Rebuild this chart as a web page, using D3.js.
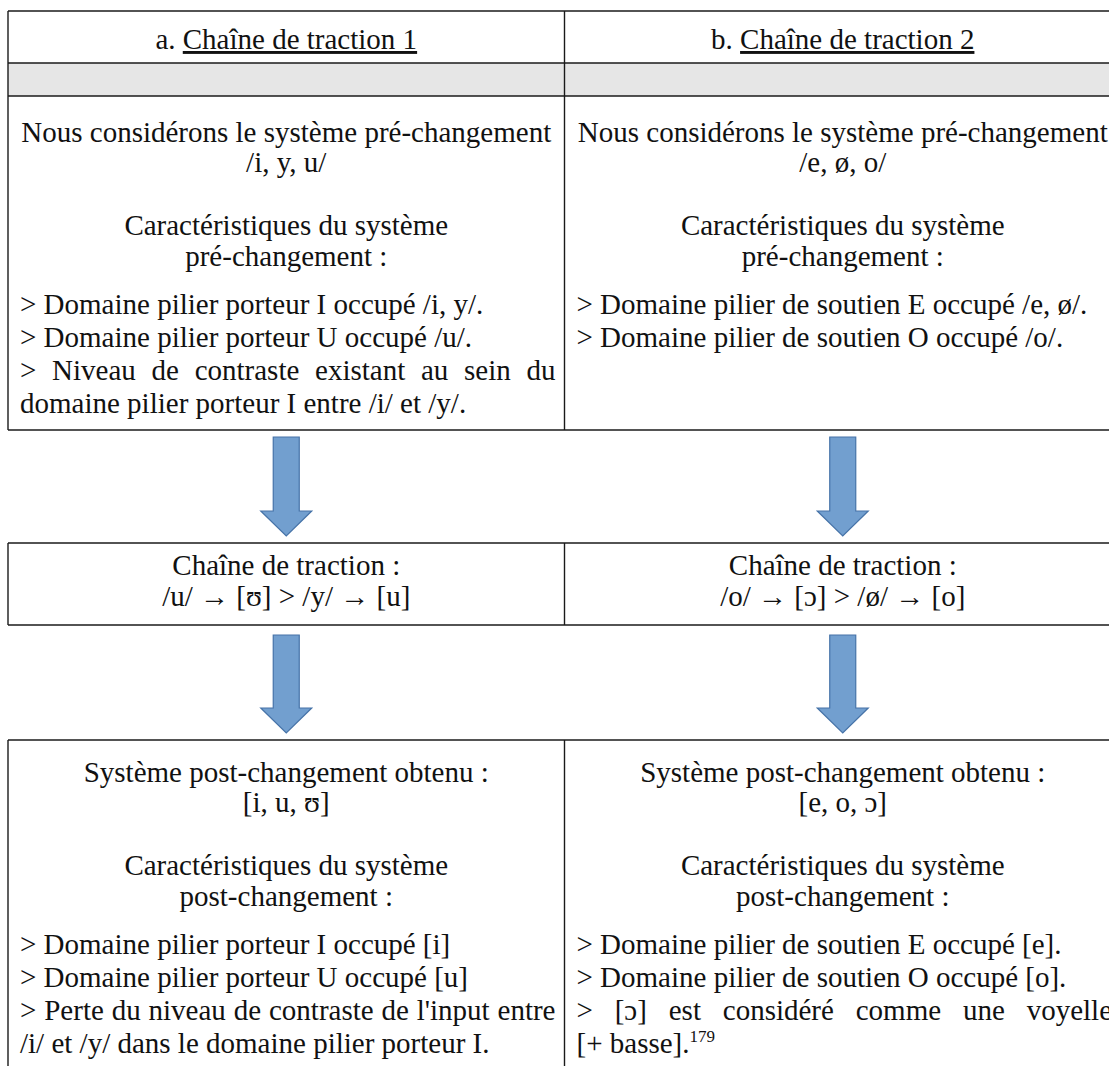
<!DOCTYPE html>
<html><head><meta charset="utf-8">
<script src="https://cdn.jsdelivr.net/npm/d3@7"></script>
<style>
html,body{margin:0;padding:0;background:#fff;}
svg{display:block;}
text{font-family:"Liberation Serif","Times New Roman",serif;fill:#111;}
</style></head>
<body>
<svg id="c" width="1109" height="1066"></svg>
<script>
// ---------- DATA ----------
const columns = ["a", "b"];
const headerPrefix = ["a. ", "b. "];
const headerTitles = ["Chaîne de traction 1", "Chaîne de traction 2"];
const preIntro = [
  ["Nous considérons le système pré-changement", "/i, y, u/"],
  ["Nous considérons le système pré-changement", "/e, ø, o/"]
];
const preCharTitle = ["Caractéristiques du système", "pré-changement :"];
const preList = [
  [["> Domaine pilier porteur I occupé /i, y/."],
   ["> Domaine pilier porteur U occupé /u/."],
   ["> Niveau de contraste existant au sein du", "domaine pilier porteur I entre /i/ et /y/."]],
  [["> Domaine pilier de soutien E occupé /e, ø/."],
   ["> Domaine pilier de soutien O occupé /o/."]]
];
const chainLines = [
  ["Chaîne de traction :", "/u/ → [ʊ] > /y/ → [u]"],
  ["Chaîne de traction :", "/o/ → [ɔ] > /ø/ → [o]"]
];
const postIntro = [
  ["Système post-changement obtenu :", "[i, u, ʊ]"],
  ["Système post-changement obtenu :", "[e, o, ɔ]"]
];
const postCharTitle = ["Caractéristiques du système", "post-changement :"];
const postList = [
  [["> Domaine pilier porteur I occupé [i]"],
   ["> Domaine pilier porteur U occupé [u]"],
   ["> Perte du niveau de contraste de l'input entre", "/i/ et /y/ dans le domaine pilier porteur I."]],
  [["> Domaine pilier de soutien E occupé [e]."],
   ["> Domaine pilier de soutien O occupé [o]."],
   ["> [ɔ] est considéré comme une voyelle", "[+ basse]."]]
];
const footnotes = [null, "179"];

// ---------- LAYOUT ----------
const svg = d3.select("#c");
const FS = 29;
const x = d3.scaleBand().domain(columns).range([8, 1121]);
const PADL = 12, PADR = 9;
const lineColor = "#1a1a1a";

// table rows (y bounds)
const T1 = {top: 11, headBottom: 63, grayBottom: 96, bottom: 430};
const T2 = {top: 543, bottom: 625};
const T3 = {top: 740, bottom: 1100};

svg.append("rect").attr("width", 1109).attr("height", 1066).attr("fill", "#fff");

// gray row
svg.append("rect").attr("x", x.range()[0]).attr("y", T1.headBottom)
  .attr("width", x.range()[1] - x.range()[0]).attr("height", T1.grayBottom - T1.headBottom)
  .attr("fill", "#e6e6e6");

function hline(y, x0, x1) {
  svg.append("line").attr("x1", x0).attr("x2", x1).attr("y1", y).attr("y2", y)
    .attr("stroke", lineColor).attr("stroke-width", 1.4);
}
function vline(xp, y0, y1) {
  svg.append("line").attr("x1", xp).attr("x2", xp).attr("y1", y0).attr("y2", y1)
    .attr("stroke", lineColor).attr("stroke-width", 1.4);
}
function tableFrame(top, bottom, hs) {
  const [x0, x1] = x.range();
  hline(top, x0, x1);
  hs.forEach(h => hline(h, x0, x1));
  if (bottom < 1066) hline(bottom, x0, x1);
  vline(x0, top, bottom);
  vline(x("b"), top, bottom);
  vline(x1, top, bottom);
}
tableFrame(T1.top, T1.bottom, [T1.headBottom, T1.grayBottom]);
tableFrame(T2.top, T2.bottom, []);
tableFrame(T3.top, T3.bottom, []);

// headers
columns.forEach((c, i) => {
  const t = svg.append("text").attr("x", x(c) + x.bandwidth() / 2).attr("y", 49)
    .attr("text-anchor", "middle").attr("font-size", FS);
  t.append("tspan").text(headerPrefix[i]);
  t.append("tspan").attr("text-decoration", "underline").text(headerTitles[i]);
});

function centered(c, y, s) {
  return svg.append("text").attr("x", x(c) + x.bandwidth() / 2).attr("y", y)
    .attr("text-anchor", "middle").attr("font-size", FS).text(s);
}
function leftLine(c, y, s) {
  return svg.append("text").attr("x", x(c) + PADL).attr("y", y)
    .attr("font-size", FS).text(s);
}
function justified(c, y, s) {
  const words = s.split(" ");
  const x0 = x(c) + PADL, W = x.bandwidth() - PADL - PADR;
  const t = svg.append("text").attr("y", y).attr("font-size", FS);
  const spans = words.map(w => t.append("tspan").text(w));
  const widths = spans.map(sp => sp.node().getComputedTextLength());
  const gap = (W - d3.sum(widths)) / (words.length - 1);
  let cx = x0;
  spans.forEach((sp, k) => { sp.attr("x", cx); cx += widths[k] + gap; });
  return t;
}
function listBlock(c, yStart, items, lh, foot) {
  let y = yStart;
  items.forEach((item, ii) => {
    item.forEach((ln, li) => {
      if (li < item.length - 1) justified(c, y, ln);
      else {
        const t = leftLine(c, y, ln);
        if (foot && ii === items.length - 1) {
          t.append("tspan").attr("font-size", 17).attr("dy", -11).text(foot);
        }
      }
      y += lh;
    });
  });
}

// Table 1 content
columns.forEach((c, i) => {
  const b = T1.grayBottom + 46;
  centered(c, b, preIntro[i][0]);
  centered(c, b + 30, preIntro[i][1]);
  centered(c, b + 93, preCharTitle[0]);
  centered(c, b + 124, preCharTitle[1]);
  listBlock(c, b + 172, preList[i], 33, null);
});

// Table 2 content
columns.forEach((c, i) => {
  centered(c, T2.top + 32, chainLines[i][0]);
  centered(c, T2.top + 63, chainLines[i][1]);
});

// Table 3 content
columns.forEach((c, i) => {
  const b = T3.top + 42;
  centered(c, b, postIntro[i][0]);
  centered(c, b + 30, postIntro[i][1]);
  centered(c, b + 93, postCharTitle[0]);
  centered(c, b + 124, postCharTitle[1]);
  listBlock(c, b + 172, postList[i], 33, footnotes[i]);
});

// arrows
function arrow(c, yTop, yTip) {
  const cx = x(c) + x.bandwidth() / 2;
  const sw = 13, hw = 25.5, hl = 25;
  const hs = yTip - hl;
  const p = d3.path();
  p.moveTo(cx - sw, yTop); p.lineTo(cx + sw, yTop); p.lineTo(cx + sw, hs);
  p.lineTo(cx + hw, hs); p.lineTo(cx, yTip); p.lineTo(cx - hw, hs);
  p.lineTo(cx - sw, hs); p.closePath();
  svg.append("path").attr("d", p.toString()).attr("fill", "#729fcf")
    .attr("stroke", "#4673a8").attr("stroke-width", 1.2);
}
columns.forEach(c => {
  arrow(c, T1.bottom + 7, T2.top - 7);
  arrow(c, T2.bottom + 10, T3.top - 7);
});
</script>
</body></html>
